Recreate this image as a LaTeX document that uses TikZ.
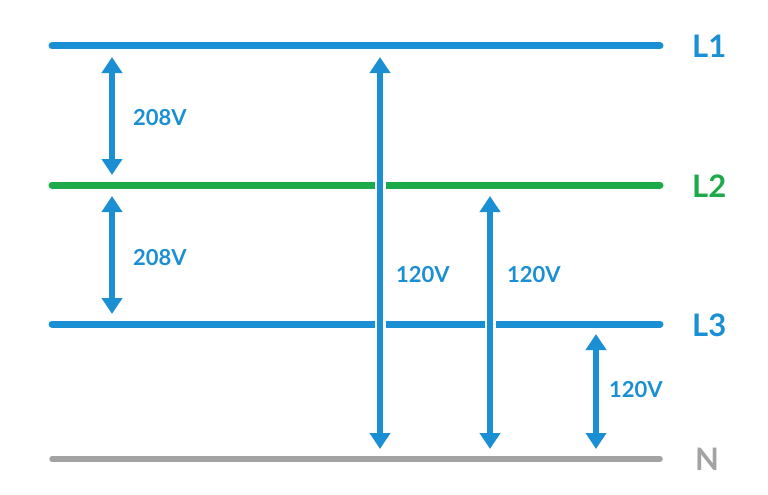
\documentclass[tikz,border=0pt]{standalone}
\usepackage{fontspec}
\setmainfont{Lato}
\usetikzlibrary{arrows.meta}
\definecolor{cblue}{HTML}{1B8FD3}
\definecolor{cgreen}{HTML}{1DAA4A}
\definecolor{cgray}{HTML}{A3A3A3}
\tikzset{
  bus/.style={line width=7pt, line cap=round},
  volt/.style={cblue, line width=5.5pt, {Triangle[width=20pt,length=16pt]}-{Triangle[width=20pt,length=16pt]},
    preaction={draw=white, line width=11pt, -, shorten >=16pt, shorten <=16pt}},
  vlabel/.style={cblue, font=\fontsize{22}{22}\selectfont\bfseries, anchor=base west, inner sep=0pt},
  blabel/.style={font=\fontsize{31}{31}\selectfont\bfseries, anchor=base west, inner sep=0pt}
}
\begin{document}
\begin{tikzpicture}[x=1pt,y=-1pt]
\useasboundingbox (0,0) rectangle (768,495);
% bus lines
\coordinate (l1a) at (52,46);  \coordinate (l1b) at (660,46);
\coordinate (l2a) at (52,185); \coordinate (l2b) at (660,185);
\coordinate (l3a) at (52,324); \coordinate (l3b) at (660,324);
\coordinate (na)  at (52,459); \coordinate (nb)  at (660,459);
\draw[bus, cblue] (l1a) -- (l1b);
\draw[bus, cgreen] (l2a) -- (l2b);
\draw[bus, cblue] (l3a) -- (l3b);
\draw[bus, cgray, line width=5.5pt] (na) -- (nb);
% bus labels
\node[blabel, cblue]  (tl1) at (692,58)  {L1};
\node[blabel, cgreen] (tl2) at (692,197) {L2};
\node[blabel, cblue]  (tl3) at (692,336) {L3};
\node[blabel, cgray]  (tn)  at (695,470) {N};
% arrow end points
\coordinate (a1t) at (112,57);  \coordinate (a1b) at (112,175);
\coordinate (a2t) at (112,196); \coordinate (a2b) at (112,314);
\coordinate (a3t) at (380,57);  \coordinate (a3b) at (380,449);
\coordinate (a4t) at (490,196); \coordinate (a4b) at (490,449);
\coordinate (a5t) at (596,334); \coordinate (a5b) at (596,449);
\draw[volt] (a1t) -- (a1b);
\draw[volt] (a2t) -- (a2b);
\draw[volt] (a3t) -- (a3b);
\draw[volt] (a4t) -- (a4b);
\draw[volt] (a5t) -- (a5b);
% voltage labels
\node[vlabel] (v1) at (133,125) {208V};
\node[vlabel] (v2) at (133,265) {208V};
\node[vlabel] (v3) at (396,282) {120V};
\node[vlabel] (v4) at (507,282) {120V};
\node[vlabel] (v5) at (609,397) {120V};
\end{tikzpicture}
\end{document}
